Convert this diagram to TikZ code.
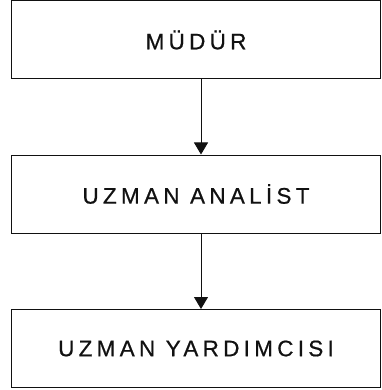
\documentclass[tikz,border=0pt]{standalone}
\usepackage{fontspec}
\setmainfont{Liberation Sans}[LetterSpace=19, FakeBold=0.6]
\usetikzlibrary{arrows.meta}
\definecolor{ink}{HTML}{111111}
\tikzset{
  post/.style={draw=ink, line width=1pt, minimum width=369pt, minimum height=78pt,
    inner sep=0pt, text=ink, font=\fontsize{22.5}{26}\selectfont},
  link/.style={draw=ink, line width=0.9pt, -{Triangle[width=14pt,length=12pt]}},
}

\begin{document}
\begin{tikzpicture}[x=1pt,y=-1pt]
  \useasboundingbox (0,0) rectangle (381,390);
  \node[post] (chief) at (196,40) {MÜDÜR};
  \node[post] (analyst) at (196,194) {UZMAN ANALİST};
  \node[post] (assistant) at (196,348.5) {UZMAN YARDIMCISI};
  \draw[link] ([xshift=5pt]chief.south) -- ([xshift=5pt]analyst.north);
  \draw[link] ([xshift=5pt]analyst.south) -- ([xshift=5pt]assistant.north);
\end{tikzpicture}
\end{document}
